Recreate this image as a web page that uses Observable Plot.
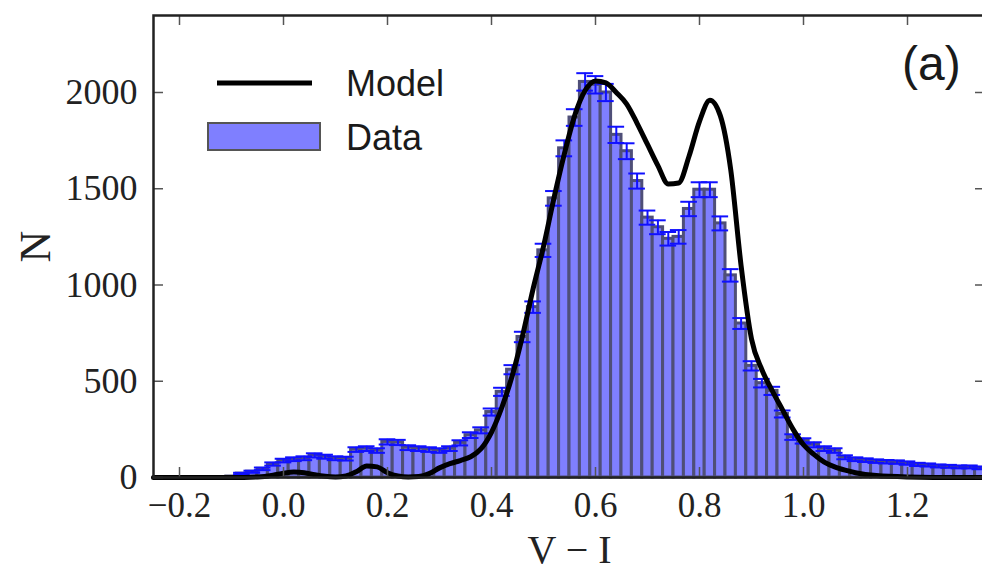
<!DOCTYPE html>
<html><head><meta charset="utf-8">
<script src="https://cdn.jsdelivr.net/npm/d3@7"></script>
<script src="https://cdn.jsdelivr.net/npm/@observablehq/plot@0.6"></script>
<style>
body{margin:0;background:#fff;}
#wrap{position:relative;width:982px;height:573px;overflow:hidden;}
.leg{position:absolute;font-family:"Liberation Sans",Arial,sans-serif;color:#1a1a1a;line-height:1;white-space:nowrap;}
</style></head><body>
<div id="wrap"></div>
<script>
// Histogram bins (V - I bin centres, width 0.02) and counts N
const binCenters = [-0.10,-0.08,-0.06,-0.04,-0.02,0.00,0.02,0.04,0.06,0.08,0.10,0.12,0.14,0.16,0.18,0.20,0.22,0.24,0.26,0.28,0.30,0.32,0.34,0.36,0.38,0.40,0.42,0.44,0.46,0.48,0.50,0.52,0.54,0.56,0.58,0.60,0.62,0.64,0.66,0.68,0.70,0.72,0.74,0.76,0.78,0.80,0.82,0.84,0.86,0.88,0.90,0.92,0.94,0.96,0.98,1.00,1.02,1.04,1.06,1.08,1.10,1.12,1.14,1.16,1.18,1.20,1.22,1.24,1.26,1.28,1.30,1.32,1.34];
const counts = [5,20,30,45,70,88,95,100,115,108,100,98,145,150,140,185,182,155,150,145,140,150,180,220,245,340,445,560,730,885,1180,1450,1710,1870,2055,2040,2000,1780,1695,1540,1350,1300,1240,1250,1395,1495,1495,1320,1050,800,580,490,450,330,210,190,170,150,140,105,95,90,85,82,80,75,68,65,60,58,55,55,50];
const binWidth = 0.02;

// Model curve
const modelX = [-0.25,-0.10,-0.05,-0.02,0.00,0.02,0.04,0.06,0.08,0.10,0.12,0.14,0.16,0.18,0.20,0.22,0.24,0.26,0.28,0.30,0.32,0.34,0.36,0.38,0.40,0.42,0.44,0.46,0.48,0.50,0.52,0.54,0.56,0.58,0.60,0.62,0.64,0.66,0.68,0.70,0.72,0.74,0.76,0.78,0.80,0.82,0.84,0.86,0.88,0.90,0.92,0.94,0.96,0.98,1.00,1.02,1.04,1.06,1.08,1.10,1.14,1.20,1.30,1.35];
const modelY = [0,0,3,12,22,28,25,14,6,3,8,30,60,55,25,8,3,5,20,50,72,88,108,150,235,365,530,740,980,1200,1450,1680,1880,2010,2060,2050,2000,1940,1840,1730,1620,1525,1530,1670,1850,1960,1880,1600,1100,720,560,450,350,250,170,120,80,55,38,25,10,3,0,0];

const xTicks = [-0.2,0.0,0.2,0.4,0.6,0.8,1.0,1.2];
const yTicks = [0,500,1000,1500,2000];
const xLabel = "V − I";
const yLabel = "N";
const legendLabels = ["Model","Data"];
const panelLabel = "(a)";

const bars = binCenters.map((x,i)=>({x, n: counts[i]}));
const model = modelX.map((x,i)=>({x, y: modelY[i]}));

const xDom = [-0.25, 1.35], yDom = [0, 2400];
const W = 982, H = 573, mL = 153, mR = -3, mT = 15, mB = 96;
const tickLenX = 10 * (xDom[1]-xDom[0]) / (W - mL - mR);
const tickLenY = 10 * (yDom[1]-yDom[0]) / (H - mT - mB);
const capHalf = 0.016;
const serif = '"Liberation Serif","DejaVu Serif",serif';
const fmtX = d => (d < 0 ? "\u2212" : "") + Math.abs(d).toFixed(1);

const chart = Plot.plot({
  width: W, height: H,
  marginLeft: mL, marginRight: mR, marginTop: mT, marginBottom: mB,
  style: {fontFamily: serif, fontSize: "36px", color: "#222", background: "#fff"},
  x: {domain: xDom},
  y: {domain: yDom},
  marks: [
    Plot.rectY(bars, {x1: d => d.x - binWidth/2, x2: d => d.x + binWidth/2, y1: 0, y2: "n",
      fill: "#7f7fff", stroke: "#4f4f78", strokeWidth: 3}),
    Plot.ruleX(bars, {x: "x", y1: d => d.n - Math.sqrt(d.n), y2: d => d.n + Math.sqrt(d.n), stroke: "#1010ff", strokeWidth: 2}),
    Plot.ruleY(bars, {y: d => d.n + Math.sqrt(d.n), x1: d => d.x - capHalf, x2: d => d.x + capHalf, stroke: "#1010ff", strokeWidth: 2}),
    Plot.ruleY(bars, {y: d => d.n - Math.sqrt(d.n), x1: d => d.x - capHalf, x2: d => d.x + capHalf, stroke: "#1010ff", strokeWidth: 2}),
    Plot.line(model, {x: "x", y: "y", stroke: "#000", strokeWidth: 5, curve: "monotone-x"}),
    // inward ticks on all four sides
    Plot.ruleX(xTicks, {x: d => d, y1: yDom[0], y2: yDom[0] + tickLenY, stroke: "#555", strokeWidth: 1.5}),
    Plot.ruleX(xTicks, {x: d => d, y1: yDom[1], y2: yDom[1] - tickLenY, stroke: "#555", strokeWidth: 1.5}),
    Plot.ruleY(yTicks, {y: d => d, x1: xDom[0], x2: xDom[0] + tickLenX, stroke: "#555", strokeWidth: 1.5}),
    Plot.ruleY(yTicks, {y: d => d, x1: xDom[1], x2: xDom[1] - tickLenX, stroke: "#555", strokeWidth: 1.5}),
    Plot.frame({stroke: "#222", strokeWidth: 2.5}),
    Plot.axisX({ticks: xTicks, tickSize: 0, tickPadding: 15, tickFormat: fmtX, label: null, fill: "#222", fontSize: 35}),
    Plot.axisY({ticks: yTicks, tickSize: 0, tickPadding: 16, tickFormat: d => String(d), label: null, fill: "#222"}),
    Plot.text([xLabel], {frameAnchor: "bottom", lineAnchor: "middle", textAnchor: "middle", dy: 73, text: d => d, fontSize: 40, fill: "#222"}),
    Plot.text([yLabel], {frameAnchor: "left", lineAnchor: "middle", textAnchor: "middle", dx: -118, rotate: -90, text: d => d, fontSize: 44, fill: "#222"})
  ]
});
const wrap = document.getElementById("wrap");
wrap.appendChild(chart);

// Legend and panel label overlay
const legend = document.createElement("div");
legend.innerHTML = `
<svg class="leg" style="left:0;top:0" width="982" height="573">
  <line x1="217" x2="312" y1="83" y2="83" stroke="#000" stroke-width="5"/>
  <rect x="208" y="123" width="112" height="27" fill="#7f7fff" stroke="#555" stroke-width="2"/>
</svg>
<div class="leg" style="left:346px;top:66px;font-size:36px">${legendLabels[0]}</div>
<div class="leg" style="left:346px;top:120px;font-size:36px">${legendLabels[1]}</div>
<div class="leg" style="left:902px;top:40px;font-size:48px">${panelLabel}</div>`;
wrap.appendChild(legend);
</script>
</body></html>
